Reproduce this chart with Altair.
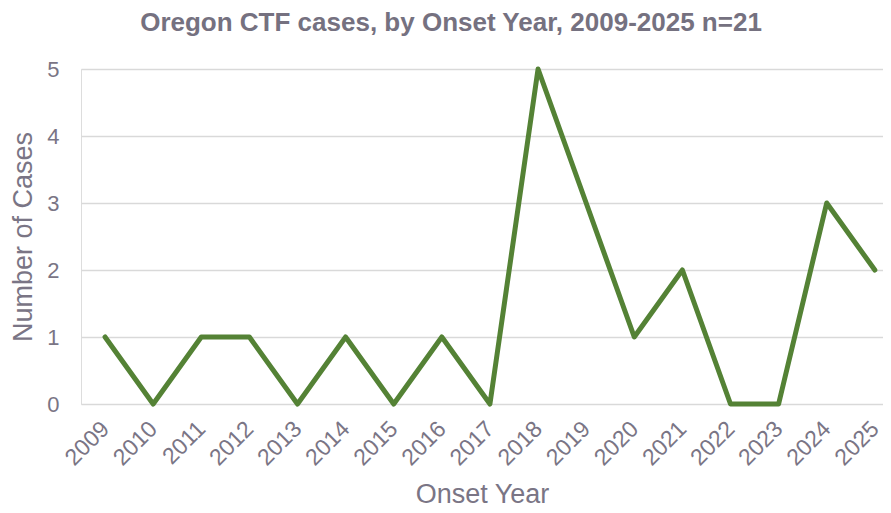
import altair as alt
import pandas as pd

years = [2009, 2010, 2011, 2012, 2013, 2014, 2015, 2016, 2017,
         2018, 2019, 2020, 2021, 2022, 2023, 2024, 2025]
cases = [1, 0, 1, 1, 0, 1, 0, 1, 0, 5, 3, 1, 2, 0, 0, 3, 2]

df = pd.DataFrame({"year": years, "cases": cases})

TEXT = "#7a7585"
FONT = "Liberation Sans"

chart = alt.Chart(df).mark_line(
    color="#548235", strokeWidth=5, strokeJoin="round", strokeCap="round"
).encode(
    x=alt.X("year:Q",
            scale=alt.Scale(domain=[2008.5, 2025.17], nice=False, zero=False),
            axis=alt.Axis(values=years, format="d", labelAngle=-45,
                          labelAlign="right", labelBaseline="middle",
                          labelFontSize=23, labelColor=TEXT, labelFont=FONT,
                          labelPadding=21, labelFlush=False, labelOverlap=False,
                          ticks=False, domain=False, grid=False,
                          title="Onset Year", titleFontSize=27,
                          titleFont=FONT, titleColor=TEXT, titleFontWeight="normal",
                          titlePadding=12)),
    y=alt.Y("cases:Q",
            scale=alt.Scale(domain=[0, 5], nice=False),
            axis=alt.Axis(values=[0, 1, 2, 3, 4, 5], ticks=False, domain=False,
                          gridColor="#d9d9d9", gridWidth=1.5,
                          labelFontSize=22, labelColor=TEXT, labelFont=FONT,
                          labelPadding=22,
                          title="Number of Cases", titleFontSize=27,
                          titleFont=FONT, titleColor=TEXT, titleFontWeight="normal",
                          titlePadding=9)),
).properties(
    width=802,
    height=335,
    autosize=alt.AutoSizeParams(type="none"),
    padding={"left": 73, "top": 61, "right": 0, "bottom": 106},
    title=alt.TitleParams(
        "Oregon CTF cases, by Onset Year, 2009-2025 n=21",
        font=FONT, fontSize=26, fontWeight="bold", color="#757180",
        anchor="middle", dx=-31, offset=22,
    ),
).configure_view(stroke=None).configure(background="white")

chart.save("out.html", embed_options={"renderer": "svg", "actions": False})
